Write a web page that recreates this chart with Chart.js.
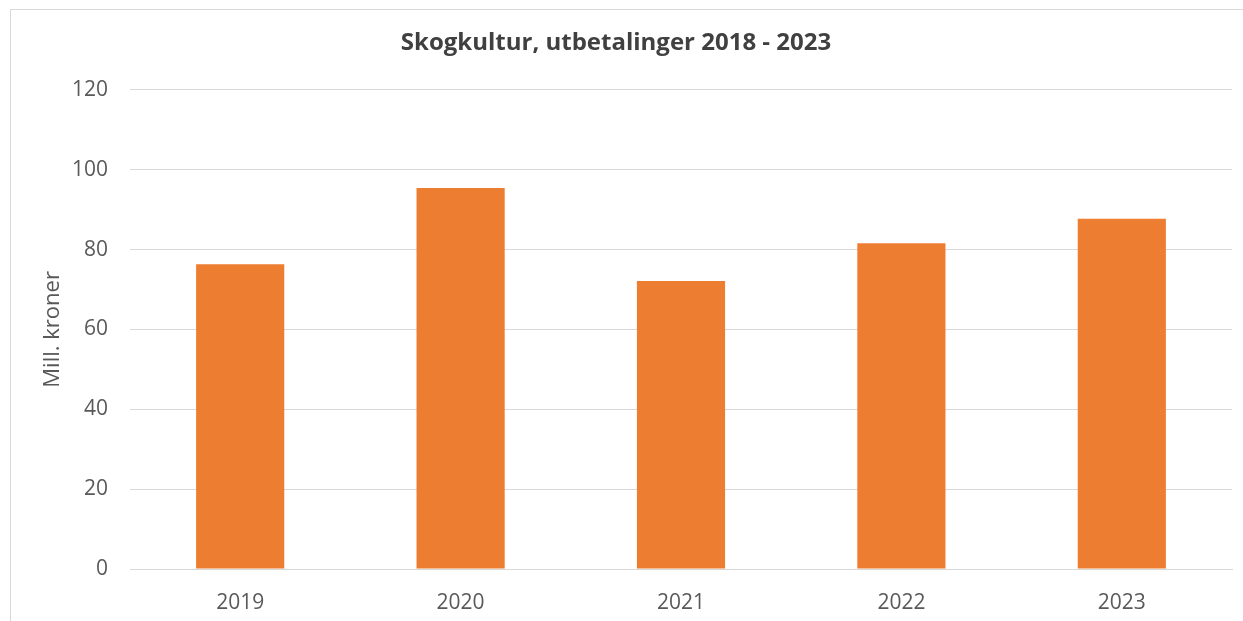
<!DOCTYPE html>
<html>
<head>
<meta charset="utf-8">
<script src="https://cdn.jsdelivr.net/npm/chart.js@4"></script>
<style>
  html, body { margin: 0; padding: 0; background: #fff; overflow: hidden; }
  #wrap { position: relative; width: 1243px; height: 621px; }
  #frame { position: absolute; left: 10px; top: 9px; width: 1300px; height: 700px; border: 1px solid #d9d9d9; box-sizing: border-box; }
  canvas { position: absolute; left: 0; top: 0; }
</style>
</head>
<body>
<div id="wrap">
  <div id="frame"></div>
  <canvas id="myChart" width="1243" height="621"></canvas>
</div>
<script>
var years = ["2019", "2020", "2021", "2022", "2023"];
var payouts = [76.3, 95.4, 72.1, 81.6, 87.7];
var yTicks = [0, 20, 40, 60, 80, 100, 120];

var font = "'Open Sans', sans-serif";
var grey = "#595959";

var myChart = new Chart(document.getElementById("myChart"), {
  type: 'bar',
  data: {
    labels: years,
    datasets: [{
      data: payouts,
      backgroundColor: "#ed7d31",
      borderWidth: 0,
      categoryPercentage: 1,
      barPercentage: 0.4
    }]
  },
  options: {
    responsive: false,
    animation: false,
    layout: {
      padding: { top: 29, right: 11, left: 0, bottom: 0 }
    },
    plugins: {
      legend: false,
      tooltip: { enabled: false },
      title: {
        display: true,
        text: "Skogkultur, utbetalinger 2018 - 2023",
        color: "#404040",
        font: { family: font, size: 24, weight: 'bold' },
        padding: { top: 0, bottom: 32 }
      }
    },
    scales: {
      x: {
        grid: { display: false, drawTicks: false },
        border: { color: "#d9d9d9", width: 1 },
        ticks: { color: grey, font: { family: font, size: 21 }, padding: 21 },
        afterFit: function (scale) { scale.height = 52; }
      },
      y: {
        min: 0,
        max: 120,
        afterBuildTicks: function (scale) {
          scale.ticks = yTicks.map(function (v) { return { value: v }; });
        },
        grid: { color: "#d9d9d9", lineWidth: 1, drawTicks: false },
        border: { display: false },
        ticks: { color: grey, font: { family: font, size: 21 }, padding: 22 },
        title: {
          display: true,
          text: "Mill. kroner",
          color: grey,
          font: { family: font, size: 22 },
          padding: { top: 40, bottom: 0 }
        },
        afterFit: function (scale) { scale.width = 130; }
      }
    }
  }
});
</script>
</body>
</html>
